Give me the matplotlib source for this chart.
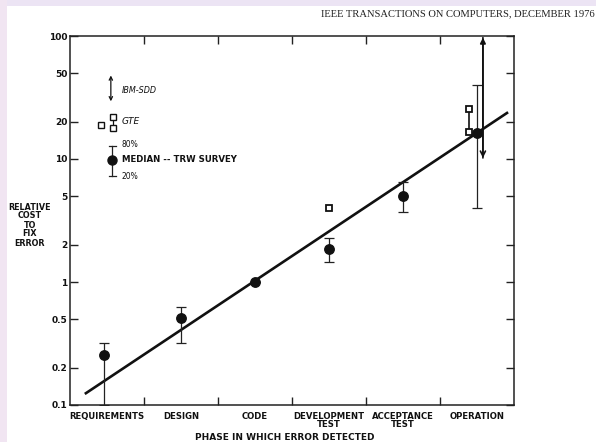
import matplotlib
matplotlib.use("Agg")
import matplotlib.pyplot as plt
from matplotlib.patches import Rectangle
from matplotlib.ticker import FixedLocator, NullLocator

# ---------------- data ----------------
phases = ["REQUIREMENTS", "DESIGN", "CODE", "DEVELOPMENT\nTEST",
          "ACCEPTANCE\nTEST", "OPERATION"]
phase_pos = [0.5, 1.5, 2.5, 3.5, 4.5, 5.5]

# TRW survey medians with 20% / 80% range
trw_x = [0.46, 1.5, 2.5, 3.5, 4.5, 5.5]
trw_median = [0.255, 0.51, 1.0, 1.85, 5.0, 16.3]
trw_p20 = [0.1, 0.32, 1.0, 1.45, 3.7, 4.0]
trw_p80 = [0.32, 0.63, 1.0, 2.28, 6.5, 40.0]

# GTE data points
gte_dev_x = [3.5]
gte_dev_y = [4.0]
gte_op_x = [5.39, 5.39]
gte_op_y = [25.5, 16.6]

# IBM-SDD range (operation)
ibm_x = 5.58
ibm_range = [10.2, 97.0]

# fitted trend line
trend_x = [0.2, 5.92]
trend_y = [0.123, 24.0]

y_ticks = [0.1, 0.2, 0.5, 1, 2, 5, 10, 20, 50, 100]
y_tick_labels = ["0.1", "0.2", "0.5", "1", "2", "5", "10", "20", "50", "100"]
x_bounds = [1, 2, 3, 4, 5]

# ---------------- figure ----------------
W, H = 596, 442
fig = plt.figure(figsize=(W / 100, H / 100), dpi=100)
fig.patch.set_facecolor("white")

# scanned-page tint at top and left edges
fig.patches.append(Rectangle((0, 1 - 6 / H), 1, 6 / H, transform=fig.transFigure,
                             facecolor="#ece4f4", edgecolor="none", zorder=0))
fig.patches.append(Rectangle((0, 0), 7 / W, 1, transform=fig.transFigure,
                             facecolor="#f1e5f2", edgecolor="none", zorder=0))

ax = fig.add_axes([70 / W, (H - 405) / H, (514 - 70) / W, (405 - 36) / H])
ax.set_yscale("log")
ax.set_xlim(0, 6)
ax.set_ylim(0.1, 100)

ink = "#111111"
for s in ax.spines.values():
    s.set_color("#222222")
    s.set_linewidth(1.1)

ax.yaxis.set_major_locator(FixedLocator(y_ticks))
ax.yaxis.set_minor_locator(NullLocator())
ax.set_yticklabels(y_tick_labels)
ax.xaxis.set_major_locator(FixedLocator(x_bounds))
ax.set_xticklabels([])
ax.tick_params(axis="both", which="major", direction="in", length=6, width=1.0,
               color="#222222", top=True, right=True)
ax.tick_params(axis="y", labelsize=6.5, pad=2, labelcolor=ink)
for lab in ax.get_yticklabels():
    lab.set_fontweight("bold")

# category labels
for p, name in zip(phase_pos, phases):
    ax.text(p, -0.018, name, transform=ax.get_xaxis_transform(), ha="center",
            va="top", fontsize=6.1, fontweight="bold", color=ink,
            linespacing=0.95)

# trend line
ax.plot(trend_x, trend_y, color=ink, lw=1.9, solid_capstyle="butt", zorder=3)

# TRW medians with error bars
yerr = [[m - lo for m, lo in zip(trw_median, trw_p20)],
        [hi - m for m, hi in zip(trw_median, trw_p80)]]
ax.errorbar(trw_x, trw_median, yerr=yerr, fmt="o", color=ink, ms=6.8,
            ecolor="#222222", elinewidth=0.9, capsize=3.5, capthick=0.9, zorder=4)

# GTE squares
ax.plot(gte_dev_x, gte_dev_y, "s", ms=4.5, mfc="white", mec=ink, mew=1.3, zorder=5)
ax.plot(gte_op_x, gte_op_y, "-", color=ink, lw=1.2, zorder=4)
ax.plot(gte_op_x, gte_op_y, "s", ms=4.5, mfc="white", mec=ink, mew=1.3, zorder=5)

# IBM-SDD arrow
ax.annotate("", xy=(ibm_x, ibm_range[1]), xytext=(ibm_x, ibm_range[0]),
            arrowprops=dict(arrowstyle="-|>", color=ink, lw=1.2,
                            mutation_scale=8, shrinkA=0, shrinkB=0), zorder=5)
ax.annotate("", xy=(ibm_x, ibm_range[0]), xytext=(ibm_x, ibm_range[1]),
            arrowprops=dict(arrowstyle="->", color=ink, lw=1.2,
                            mutation_scale=9, shrinkA=0, shrinkB=0), zorder=5)

# ---------------- legend (hand-drawn key) ----------------
T = ax.transAxes
ax.annotate("", xy=(0.092, 0.893), xytext=(0.092, 0.823), xycoords=T,
            arrowprops=dict(arrowstyle="<->", color=ink, lw=0.9,
                            mutation_scale=6, shrinkA=0, shrinkB=0))
ax.text(0.117, 0.851, "IBM-SDD", transform=T, fontsize=5.8, color=ink,
        family="DejaVu Sans", fontstyle="italic", va="center")
ax.plot([0.070], [0.759], "s", ms=4, mfc="white", mec=ink, mew=1.0, transform=T)
ax.plot([0.097, 0.097], [0.780, 0.751], "-", color=ink, lw=0.9, transform=T)
ax.plot([0.097, 0.097], [0.780, 0.751], "s", ms=4, mfc="white", mec=ink,
        mew=1.0, transform=T)
ax.text(0.117, 0.767, "GTE", transform=T, fontsize=6.5, color=ink,
        fontstyle="italic", va="center")
ax.plot([0.095, 0.095], [0.621, 0.702], "-", color="#222222", lw=0.9, transform=T)
ax.plot([0.087, 0.103], [0.702, 0.702], "-", color="#222222", lw=0.9, transform=T)
ax.plot([0.087, 0.103], [0.621, 0.621], "-", color="#222222", lw=0.9, transform=T)
ax.plot([0.095], [0.664], "o", ms=6.5, color=ink, transform=T)
ax.text(0.116, 0.706, "80%", transform=T, fontsize=5.5, color=ink, va="center")
ax.text(0.116, 0.664, "MEDIAN -- TRW SURVEY", transform=T, fontsize=6.2,
        fontweight="bold", color=ink, va="center")
ax.text(0.116, 0.619, "20%", transform=T, fontsize=5.5, color=ink, va="center")

# ---------------- axis titles & header ----------------
fig.text(30 / W, 1 - 225 / H, "RELATIVE\nCOST\nTO\nFIX\nERROR", ha="center",
         va="center", fontsize=5.8, fontweight="bold", color=ink, linespacing=1.0)
fig.text(285 / W, 1 - 437 / H, "PHASE IN WHICH ERROR DETECTED", ha="center",
         va="center", fontsize=6.5, fontweight="bold", color=ink)
fig.text(595 / W, 1 - 14 / H, "IEEE TRANSACTIONS ON COMPUTERS, DECEMBER 1976",
         ha="right", va="center", fontsize=7.6, family="Liberation Serif",
         color="#222222")

fig.savefig("out.png", dpi=100)
